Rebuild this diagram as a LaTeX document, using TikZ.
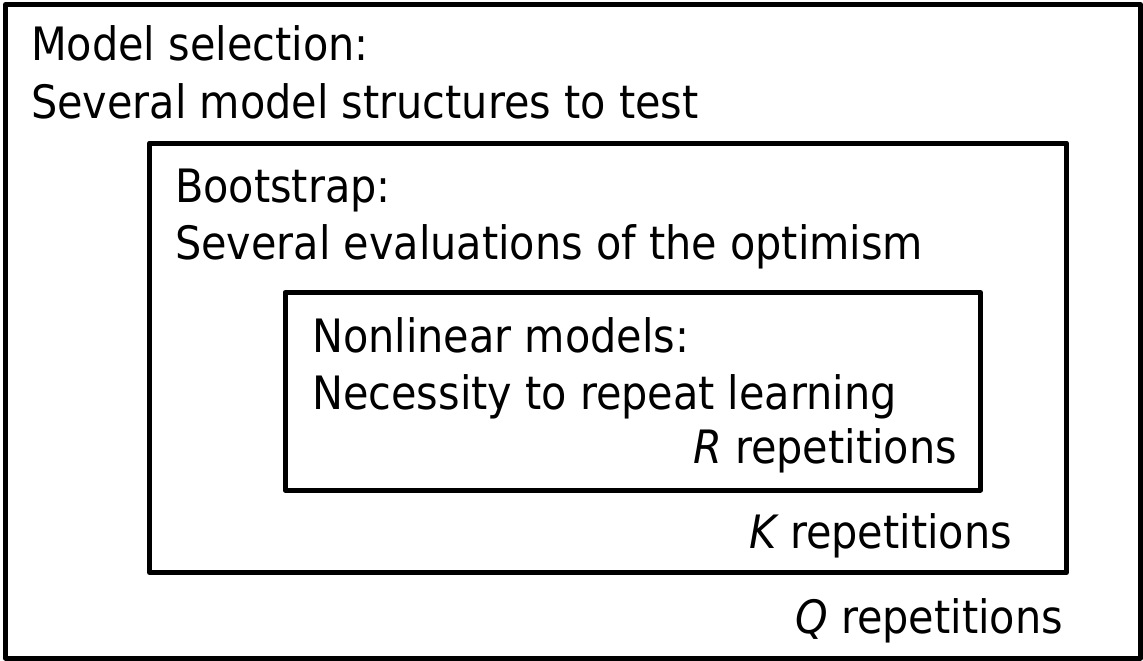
\documentclass[tikz,border=0pt]{standalone}
\usepackage{fontspec}
\setmainfont{DejaVu Sans Condensed}
\begin{document}
\begin{tikzpicture}[x=1pt,y=-1pt,
  box/.style={draw, line width=5pt, line join=round},
  lbl/.style={inner sep=0pt, font=\fontsize{46}{55}\selectfont}]
\useasboundingbox (0,0) rectangle (1143,661);
% boxes
\draw[box] (5.5,4.5) rectangle (1140.5,658);
\draw[box] (149.5,143) rectangle (1066.5,572.5);
\draw[box] (285,292.5) rectangle (980.5,490);
% outer texts
\node[lbl, anchor=base west] (o1) at (31,61) {Model selection:};
\node[lbl, anchor=base west] (o2) at (31,118) {Several model structures to test};
\node[lbl, anchor=base east] (oq) at (1063,633) {\itshape Q\upshape\ repetitions};
% middle texts
\node[lbl, anchor=base west] (m1) at (175,202) {Bootstrap:};
\node[lbl, anchor=base west] (m2) at (175,259) {Several evaluations of the optimism};
\node[lbl, anchor=base east] (mk) at (1012,548) {\itshape K\upshape\ repetitions};
% inner texts
\node[lbl, anchor=base west] (i1) at (312,352) {Nonlinear models:};
\node[lbl, anchor=base west] (i2) at (312,409) {Necessity to repeat learning};
\node[lbl, anchor=base east] (ir) at (957,463) {\itshape R\upshape\ repetitions};
\end{tikzpicture}
\end{document}
